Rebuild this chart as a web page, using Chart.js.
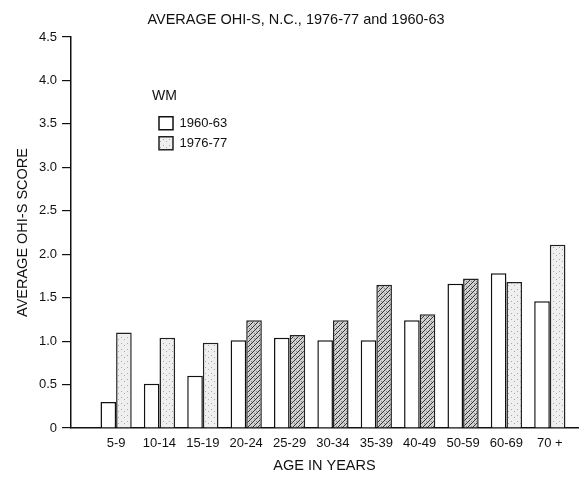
<!DOCTYPE html>
<html>
<head>
<meta charset="utf-8">
<title>Average OHI-S, N.C.</title>
<script src="https://cdn.jsdelivr.net/npm/chart.js@4.4.0/dist/chart.umd.min.js"></script>
<style>
  body{margin:0;background:#fff}
</style>
</head>
<body>
<canvas id="ohis" width="586" height="477"></canvas>
<script>
// age groups along the x axis
var ageGroups=['5-9','10-14','15-19','20-24','25-29','30-34','35-39','40-49','50-59','60-69','70 +']
// average OHI-S score, white males
var scores1960=[0.30,0.51,0.60,1.01,1.04,1.01,1.01,1.24,1.66,1.78,1.46]
var scores1976=[1.10,1.04,0.98,1.24,1.07,1.24,1.65,1.31,1.72,1.68,2.11]
var seriesNames=['1960-63','1976-77']
var yTicks=[0,0.5,1.0,1.5,2.0,2.5,3.0,3.5,4.0,4.5]
// groups whose 1976-77 bar is heavily hatched
var denseHatch=[3,4,5,6,7,8]

Chart.defaults.font.family="'Liberation Sans', Arial, sans-serif"
Chart.defaults.font.size=13
Chart.defaults.color='#111'

const canvas=document.getElementById("ohis")
const ctx=canvas.getContext("2d")

function makePattern(dense){
  const tile=document.createElement("canvas")
  const s=dense?5:6
  tile.width=s
  tile.height=s
  const g=tile.getContext("2d")
  g.fillStyle=dense?'#d0d0d0':'#efefef'
  g.fillRect(0,0,s,s)
  g.fillStyle=dense?'#888':'#aaa'
  g.fillRect(1,1,1,1)
  g.fillRect(4,3,1,1)
  if(dense){
    g.strokeStyle='#333'
    g.lineWidth=1
    g.beginPath()
    g.moveTo(0,s);g.lineTo(s,0)
    g.moveTo(-1,1);g.lineTo(1,-1)
    g.moveTo(s-1,s+1);g.lineTo(s+1,s-1)
    g.stroke()
  }
  return ctx.createPattern(tile,'repeat')
}
const densePat=makePattern(true)
const lightPat=makePattern(false)

// put the legend block inside the plot, upper left
const legendSpot={
  id:'legendSpot',
  afterLayout(chart){
    const lg=chart.legend
    const w=lg.width, h=lg.height
    lg.left=152; lg.top=89
    lg.right=152+w; lg.bottom=89+h
  }
}

const config={
  type:'bar',
  data:{
    datasets:[{
      label:seriesNames[0],
      data:scores1960.map((v,i)=>({x:i+1,y:v})),
      backgroundColor:'#fff',
      borderColor:'#111',
      borderWidth:1.5,
      categoryPercentage:0.72,
      barPercentage:1.0
    },{
      label:seriesNames[1],
      data:scores1976.map((v,i)=>({x:i+1,y:v})),
      backgroundColor:(c)=>denseHatch.includes(c.dataIndex)?densePat:lightPat,
      borderColor:'#222',
      borderWidth:1.5,
      categoryPercentage:0.72,
      barPercentage:1.0
    }]
  },
  options:{
    responsive:false,
    animation:false,
    layout:{padding:{left:14,right:8,top:0,bottom:0}},
    scales:{
      x:{
        type:'linear',
        offset:false,
        min:-0.04,
        max:11.65,
        afterBuildTicks:(s)=>{ s.ticks=ageGroups.map((a,i)=>({value:i+1})) },
        ticks:{callback:(v)=>ageGroups[v-1],padding:8,maxRotation:0,autoSkip:false,color:'#111'},
        grid:{display:false,drawTicks:false,offset:false},
        border:{display:true,color:'#111',width:1.5},
        title:{display:true,text:'AGE IN YEARS',color:'#111',font:{size:14.5},padding:{top:4,bottom:2}},
        afterFit:(s)=>{ s.height=49 }
      },
      y:{
        min:0,
        max:4.5,
        afterBuildTicks:(s)=>{ s.ticks=yTicks.map(v=>({value:v})) },
        ticks:{callback:(v)=>v===0?'0':v.toFixed(1),padding:5,color:'#111'},
        grid:{drawOnChartArea:false,drawTicks:true,tickLength:9,color:'#111',lineWidth:1.2},
        border:{display:true,color:'#111',width:1.5},
        title:{display:true,text:'AVERAGE OHI-S SCORE',color:'#111',font:{size:14.5},padding:{top:0,bottom:4}},
        afterFit:(s)=>{ s.width=57 }
      }
    },
    plugins:{
      title:{
        display:true,
        text:'AVERAGE OHI-S, N.C., 1976-77 and 1960-63',
        color:'#111',
        font:{size:14.5,weight:'normal'},
        padding:{top:11.3,bottom:8.3}
      },
      legend:{
        position:'chartArea',
        align:'start',
        title:{display:true,text:'WM',color:'#111',font:{size:14},padding:{top:0,bottom:4},position:'start'},
        labels:{boxWidth:14,boxHeight:13,padding:7,color:'#111',font:{size:13}}
      },
      tooltip:{enabled:false}
    }
  },
  plugins:[legendSpot]
}

const graphe=new Chart(canvas,config)
</script>
</body>
</html>
